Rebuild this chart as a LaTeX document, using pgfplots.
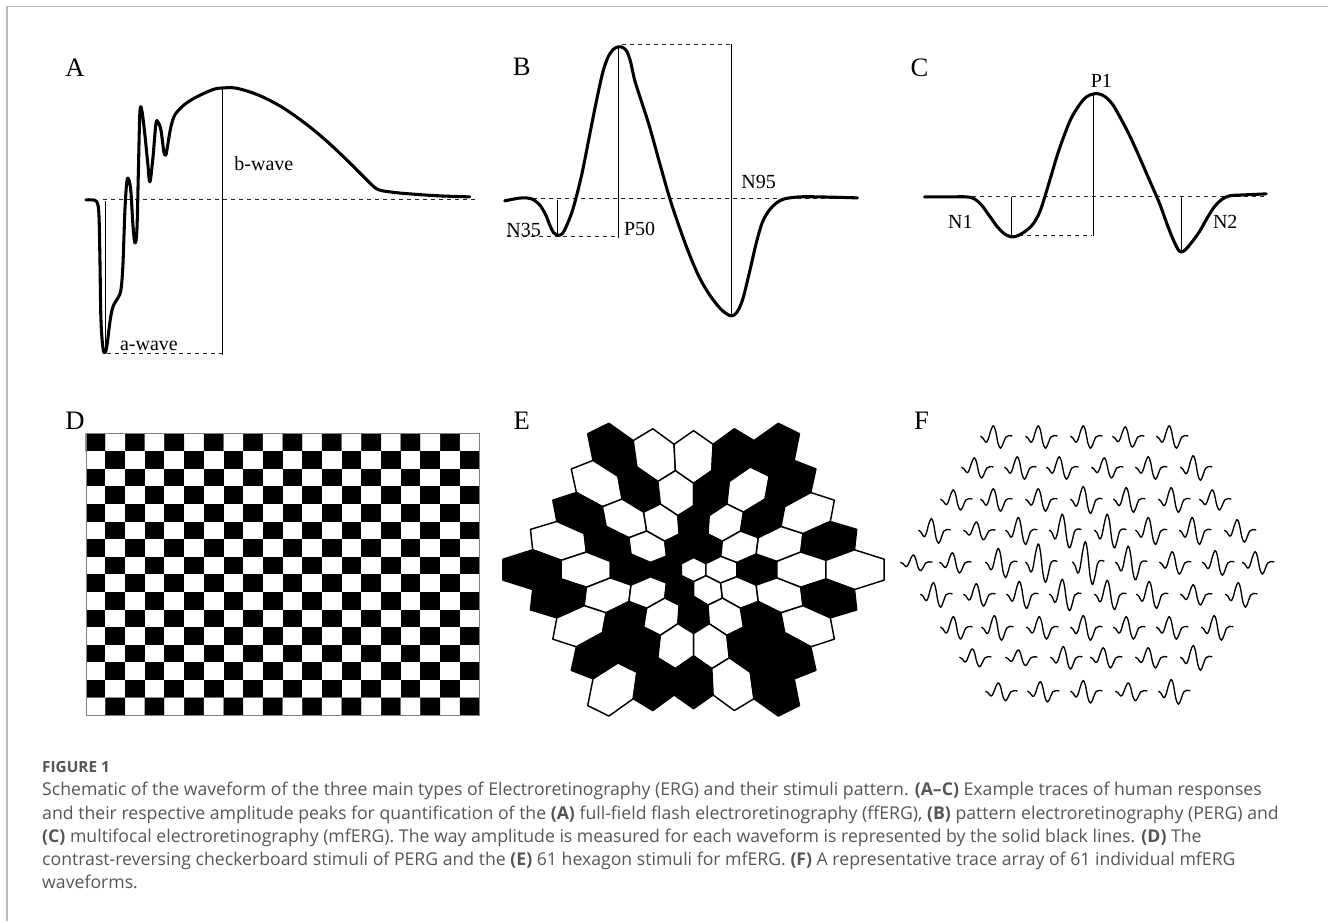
\documentclass[border=0pt]{standalone}
\usepackage{pgfplots}
\pgfplotsset{compat=1.18}
\usepackage{pgfplotstable}
\usepackage{fontspec}
\setmainfont{Liberation Serif}
\newfontfamily\capfont{Open Sans}
\definecolor{capgray}{HTML}{555555}
\definecolor{framegray}{HTML}{BBBBBB}

\pgfplotstableread{
x y
0 -1
0.866 -0.5
0.866 0.5
0 1
-0.866 0.5
-0.866 -0.5
0 -1
}\hexunit

\pgfplotstableread{
x y
0.00 0.02
0.08 -0.06
0.17 -0.24
0.24 -0.12
0.32 0.25
0.40 0.48
0.47 0.28
0.55 -0.28
0.63 -0.50
0.71 -0.30
0.79 -0.02
0.89 0.05
1.00 0.03
}\tracetemp

\pgfplotstableread[row sep=\\]{
j i c\\
0 0 1\\1 0 0\\2 0 1\\3 0 0\\4 0 1\\5 0 0\\6 0 1\\7 0 0\\8 0 1\\9 0 0\\10 0 1\\11 0 0\\12 0 1\\13 0 0\\14 0 1\\15 0 0\\16 0 1\\17 0 0\\18 0 1\\19 0 0\\
0 1 0\\1 1 1\\2 1 0\\3 1 1\\4 1 0\\5 1 1\\6 1 0\\7 1 1\\8 1 0\\9 1 1\\10 1 0\\11 1 1\\12 1 0\\13 1 1\\14 1 0\\15 1 1\\16 1 0\\17 1 1\\18 1 0\\19 1 1\\
0 2 1\\1 2 0\\2 2 1\\3 2 0\\4 2 1\\5 2 0\\6 2 1\\7 2 0\\8 2 1\\9 2 0\\10 2 1\\11 2 0\\12 2 1\\13 2 0\\14 2 1\\15 2 0\\16 2 1\\17 2 0\\18 2 1\\19 2 0\\
0 3 0\\1 3 1\\2 3 0\\3 3 1\\4 3 0\\5 3 1\\6 3 0\\7 3 1\\8 3 0\\9 3 1\\10 3 0\\11 3 1\\12 3 0\\13 3 1\\14 3 0\\15 3 1\\16 3 0\\17 3 1\\18 3 0\\19 3 1\\
0 4 1\\1 4 0\\2 4 1\\3 4 0\\4 4 1\\5 4 0\\6 4 1\\7 4 0\\8 4 1\\9 4 0\\10 4 1\\11 4 0\\12 4 1\\13 4 0\\14 4 1\\15 4 0\\16 4 1\\17 4 0\\18 4 1\\19 4 0\\
0 5 0\\1 5 1\\2 5 0\\3 5 1\\4 5 0\\5 5 1\\6 5 0\\7 5 1\\8 5 0\\9 5 1\\10 5 0\\11 5 1\\12 5 0\\13 5 1\\14 5 0\\15 5 1\\16 5 0\\17 5 1\\18 5 0\\19 5 1\\
0 6 1\\1 6 0\\2 6 1\\3 6 0\\4 6 1\\5 6 0\\6 6 1\\7 6 0\\8 6 1\\9 6 0\\10 6 1\\11 6 0\\12 6 1\\13 6 0\\14 6 1\\15 6 0\\16 6 1\\17 6 0\\18 6 1\\19 6 0\\
0 7 0\\1 7 1\\2 7 0\\3 7 1\\4 7 0\\5 7 1\\6 7 0\\7 7 1\\8 7 0\\9 7 1\\10 7 0\\11 7 1\\12 7 0\\13 7 1\\14 7 0\\15 7 1\\16 7 0\\17 7 1\\18 7 0\\19 7 1\\
0 8 1\\1 8 0\\2 8 1\\3 8 0\\4 8 1\\5 8 0\\6 8 1\\7 8 0\\8 8 1\\9 8 0\\10 8 1\\11 8 0\\12 8 1\\13 8 0\\14 8 1\\15 8 0\\16 8 1\\17 8 0\\18 8 1\\19 8 0\\
0 9 0\\1 9 1\\2 9 0\\3 9 1\\4 9 0\\5 9 1\\6 9 0\\7 9 1\\8 9 0\\9 9 1\\10 9 0\\11 9 1\\12 9 0\\13 9 1\\14 9 0\\15 9 1\\16 9 0\\17 9 1\\18 9 0\\19 9 1\\
0 10 1\\1 10 0\\2 10 1\\3 10 0\\4 10 1\\5 10 0\\6 10 1\\7 10 0\\8 10 1\\9 10 0\\10 10 1\\11 10 0\\12 10 1\\13 10 0\\14 10 1\\15 10 0\\16 10 1\\17 10 0\\18 10 1\\19 10 0\\
0 11 0\\1 11 1\\2 11 0\\3 11 1\\4 11 0\\5 11 1\\6 11 0\\7 11 1\\8 11 0\\9 11 1\\10 11 0\\11 11 1\\12 11 0\\13 11 1\\14 11 0\\15 11 1\\16 11 0\\17 11 1\\18 11 0\\19 11 1\\
0 12 1\\1 12 0\\2 12 1\\3 12 0\\4 12 1\\5 12 0\\6 12 1\\7 12 0\\8 12 1\\9 12 0\\10 12 1\\11 12 0\\12 12 1\\13 12 0\\14 12 1\\15 12 0\\16 12 1\\17 12 0\\18 12 1\\19 12 0\\
0 13 0\\1 13 1\\2 13 0\\3 13 1\\4 13 0\\5 13 1\\6 13 0\\7 13 1\\8 13 0\\9 13 1\\10 13 0\\11 13 1\\12 13 0\\13 13 1\\14 13 0\\15 13 1\\16 13 0\\17 13 1\\18 13 0\\19 13 1\\
0 14 1\\1 14 0\\2 14 1\\3 14 0\\4 14 1\\5 14 0\\6 14 1\\7 14 0\\8 14 1\\9 14 0\\10 14 1\\11 14 0\\12 14 1\\13 14 0\\14 14 1\\15 14 0\\16 14 1\\17 14 0\\18 14 1\\19 14 0\\
0 15 0\\1 15 1\\2 15 0\\3 15 1\\4 15 0\\5 15 1\\6 15 0\\7 15 1\\8 15 0\\9 15 1\\10 15 0\\11 15 1\\12 15 0\\13 15 1\\14 15 0\\15 15 1\\16 15 0\\17 15 1\\18 15 0\\19 15 1\\
}\checker

\newcommand\hex[3]{%
\addplot[fill=#3, draw=black, line width=1.1pt, line join=round] table[
 x expr={694+(\thisrow{x}+0.866*(2*(#1)+(#2)))*(12.6+1.52*sqrt((\thisrow{x}+0.866*(2*(#1)+(#2)))^2+(\thisrow{y}+1.5*(#2))^2))},
 y expr={570+(\thisrow{y}+1.5*(#2))*(10.77+1.30*sqrt((\thisrow{x}+0.866*(2*(#1)+(#2)))^2+(\thisrow{y}+1.5*(#2))^2))}
] {\hexunit};}

\newcommand\trace[3]{%
\addplot[smooth, tension=0.6, black, line width=1.0pt, line join=round] table[x expr={#1-16+32*\thisrow{x}}, y expr={#2-1.15*(#3)*\thisrow{y}}] {\tracetemp};}

\tikzset{dsh/.style={black!85, line width=0.7pt, dash pattern=on 3pt off 3pt},
 vl/.style={black, line width=0.8pt},
 wave/.style={black, line width=2.3pt, smooth, tension=0.55, line join=round, line cap=round},
 plab/.style={font=\fontsize{20}{20}\selectfont},
 alab/.style={font=\fontsize{15}{15}\selectfont, inner sep=1pt}}

\begin{document}
\begin{tikzpicture}
\begin{axis}[x=0.75pt, y=0.75pt, y dir=reverse, xmin=0, xmax=1329, ymin=0, ymax=922,
  hide axis, clip=false, colormap={bw}{color=(white) color=(black)},
  point meta min=0, point meta max=1]
\path (axis cs:0,0) rectangle (axis cs:1329,922);
\draw[framegray, line width=1.2pt] (axis cs:7,922) -- (axis cs:7,6.5) -- (axis cs:1329,6.5);

% ---------- Panel A ----------
\addplot[dsh] coordinates {(103,200) (475,200)};
\addplot[dsh] coordinates {(107,354) (223,354)};
\addplot[vl] coordinates {(105.7,201) (105.7,353)};
\addplot[vl] coordinates {(223,88) (223,355)};
\addplot[wave] coordinates {(86,200) (92,200) (97,202) (99,215) (100,260) (101,320) (103,348) (105,353) (107,346) (110,322) (113,307) (118,298) (121,290) (123,265) (125,210) (127,181) (129,180) (131,192) (133,225) (135,243) (137,230) (138.5,170) (140,112) (142,111) (145,135) (148,165) (150,182) (153,158) (156,124) (158,122) (161,130) (164,152) (166,155) (168,144) (171,127) (175,115) (183,106) (193,99) (205,93) (215,89) (223,88) (235,88) (250,92) (265,98) (285,109) (310,127) (330,144) (350,163) (365,178) (377,189) (390,192) (410,194) (440,196) (470,197)};
\node[plab] at (axis cs:75,68) {A};
\node[alab] at (axis cs:264,164) {b-wave};
\node[alab] at (axis cs:149,346) {a-wave};

% ---------- Panel B ----------
\addplot[dsh] coordinates {(533,199) (858,199)};
\addplot[dsh] coordinates {(622,44.5) (732,44.5)};
\addplot[dsh] coordinates {(507,237) (618,237)};
\addplot[vl] coordinates {(557.7,200) (557.7,235)};
\addplot[vl] coordinates {(619,47) (619,238)};
\addplot[vl] coordinates {(732,44.5) (732,315)};
\addplot[wave] coordinates {(505,201) (515,199) (523,198) (532,199) (540,205) (546,215) (550,225) (554,233) (557,235) (561,235) (565,230) (573,210) (582,175) (590,135) (597,100) (603,73) (608,58) (613,50) (618,47) (622,47) (627,51) (631,62) (635,80) (642,102) (650,127) (660,163) (670,198) (680,228) (690,255) (700,278) (710,295) (720,308) (727,314) (732,316) (737,313) (743,300) (750,272) (757,242) (763,222) (770,210) (777,203) (785,199) (800,197) (820,197) (858,198)};
\node[plab] at (axis cs:522,67) {B};
\node[alab] at (axis cs:524,230) {N35};
\node[alab] at (axis cs:640,229) {P50};
\node[alab] at (axis cs:759,182) {N95};

% ---------- Panel C ----------
\addplot[dsh] coordinates {(973,197) (1267,197)};
\addplot[dsh] coordinates {(1012,236) (1093,236)};
\addplot[vl] coordinates {(1012,197) (1012,237)};
\addplot[vl] coordinates {(1094,93) (1094,236)};
\addplot[vl] coordinates {(1182,197) (1182,252)};
\addplot[wave] coordinates {(925,197) (950,197) (967,197) (975,199) (982,205) (990,216) (998,227) (1005,234) (1012,237) (1018,236) (1025,232) (1033,225) (1040,213) (1046,195) (1052,175) (1058,155) (1065,135) (1072,118) (1080,105) (1087,97) (1094,94) (1100,94) (1106,97) (1113,104) (1120,116) (1130,135) (1140,157) (1150,180) (1160,203) (1168,225) (1174,240) (1179,250) (1182,252) (1186,250) (1192,243) (1200,232) (1208,218) (1215,207) (1222,200) (1230,196) (1245,195) (1267,194)};
\node[plab] at (axis cs:920,68) {C};
\node[alab] at (axis cs:1102,81) {P1};
\node[alab] at (axis cs:961,222) {N1};
\node[alab] at (axis cs:1226,222) {N2};

% ---------- Panel D ----------
\addplot[matrix plot*, mesh/cols=20, point meta=\thisrow{c}]
  table[x expr={86+19.7*(\thisrow{j}+0.5)}, y expr={434+17.625*(\thisrow{i}+0.5)}] {\checker};
\addplot[gray, line width=0.6pt] coordinates {(86,434) (480,434) (480,716) (86,716) (86,434)};
\node[plab] at (axis cs:75,421) {D};

% ---------- Panel E ----------
\hex{0}{-4}{black}\hex{1}{-4}{white}\hex{2}{-4}{white}\hex{3}{-4}{black}\hex{4}{-4}{black}
\hex{-1}{-3}{white}\hex{0}{-3}{black}\hex{1}{-3}{white}\hex{2}{-3}{black}\hex{3}{-3}{white}\hex{4}{-3}{black}
\hex{-2}{-2}{black}\hex{-1}{-2}{white}\hex{0}{-2}{white}\hex{1}{-2}{black}\hex{2}{-2}{white}\hex{3}{-2}{black}\hex{4}{-2}{white}
\hex{-3}{-1}{white}\hex{-2}{-1}{black}\hex{-1}{-1}{white}\hex{0}{-1}{black}\hex{1}{-1}{black}\hex{2}{-1}{white}\hex{3}{-1}{white}\hex{4}{-1}{black}
\hex{-4}{0}{black}\hex{-3}{0}{white}\hex{-2}{0}{black}\hex{-1}{0}{black}\hex{0}{0}{white}\hex{1}{0}{white}\hex{2}{0}{black}\hex{3}{0}{white}\hex{4}{0}{white}
\hex{-4}{1}{black}\hex{-3}{1}{white}\hex{-2}{1}{white}\hex{-1}{1}{black}\hex{0}{1}{white}\hex{1}{1}{white}\hex{2}{1}{white}\hex{3}{1}{black}
\hex{-4}{2}{white}\hex{-3}{2}{black}\hex{-2}{2}{white}\hex{-1}{2}{black}\hex{0}{2}{white}\hex{1}{2}{black}\hex{2}{2}{white}
\hex{-4}{3}{black}\hex{-3}{3}{black}\hex{-2}{3}{white}\hex{-1}{3}{white}\hex{0}{3}{black}\hex{1}{3}{black}
\hex{-4}{4}{white}\hex{-3}{4}{black}\hex{-2}{4}{black}\hex{-1}{4}{white}\hex{0}{4}{black}
\node[plab] at (axis cs:522,421) {E};

% ---------- Panel F ----------
\trace{997}{437}{20}\trace{1042}{437}{20}\trace{1087}{437}{20}\trace{1129}{437}{18}\trace{1173}{437}{20}
\trace{978}{468}{18}\trace{1021}{468}{20}\trace{1063}{468}{20}\trace{1108}{468}{18}\trace{1152}{468}{20}\trace{1197}{468}{22}
\trace{957}{500}{18}\trace{997}{500}{20}\trace{1042}{500}{20}\trace{1087}{500}{24}\trace{1130}{500}{22}\trace{1175}{500}{22}\trace{1216}{500}{18}
\trace{935}{531}{22}\trace{980}{531}{16}\trace{1022}{531}{24}\trace{1066}{531}{30}\trace{1111}{531}{30}\trace{1152}{531}{24}\trace{1196}{531}{24}\trace{1241}{531}{20}
\trace{917}{563}{14}\trace{956}{563}{18}\trace{1002}{563}{26}\trace{1042}{563}{34}\trace{1089}{563}{38}\trace{1132}{563}{30}\trace{1176}{563}{20}\trace{1219}{563}{22}\trace{1259}{563}{20}
\trace{937}{595}{22}\trace{980}{595}{20}\trace{1023}{595}{24}\trace{1066}{595}{28}\trace{1111}{595}{26}\trace{1153}{595}{24}\trace{1197}{595}{18}\trace{1242}{595}{22}
\trace{957}{628}{20}\trace{998}{628}{22}\trace{1043}{628}{20}\trace{1087}{628}{22}\trace{1130}{628}{20}\trace{1173}{628}{20}\trace{1218}{628}{22}
\trace{976}{658}{16}\trace{1022}{658}{14}\trace{1067}{658}{20}\trace{1107}{658}{18}\trace{1152}{658}{18}\trace{1197}{658}{22}
\trace{1002}{692}{16}\trace{1044}{692}{18}\trace{1087}{692}{20}\trace{1132}{692}{16}\trace{1175}{692}{22}
\node[plab] at (axis cs:922,421) {F};

% ---------- Caption ----------
\node[anchor=base west, inner sep=0, text=capgray, font=\capfont\bfseries\fontsize{11.5}{13}\selectfont] at (axis cs:42,773) {FIGURE 1};
\begin{scope}[every node/.style={anchor=base west, inner sep=0, text=capgray, font=\capfont\fontsize{13.25}{15}\selectfont}]
\node at (axis cs:42,796) {Schematic of the waveform of the three main types of Electroretinography (ERG) and their stimuli pattern. \textbf{(A–C)} Example traces of human responses};
\node at (axis cs:42,819.5) {and their respective amplitude peaks for quantification of the \textbf{(A)} full-field flash electroretinography (ffERG), \textbf{(B)} pattern electroretinography (PERG) and};
\node at (axis cs:42,842.5) {\textbf{(C)} multifocal electroretinography (mfERG). The way amplitude is measured for each waveform is represented by the solid black lines. \textbf{(D)} The};
\node at (axis cs:42,866) {contrast-reversing checkerboard stimuli of PERG and the \textbf{(E)} 61 hexagon stimuli for mfERG. \textbf{(F)} A representative trace array of 61 individual mfERG};
\node at (axis cs:42,889) {waveforms.};
\end{scope}
\end{axis}
\end{tikzpicture}
\end{document}
